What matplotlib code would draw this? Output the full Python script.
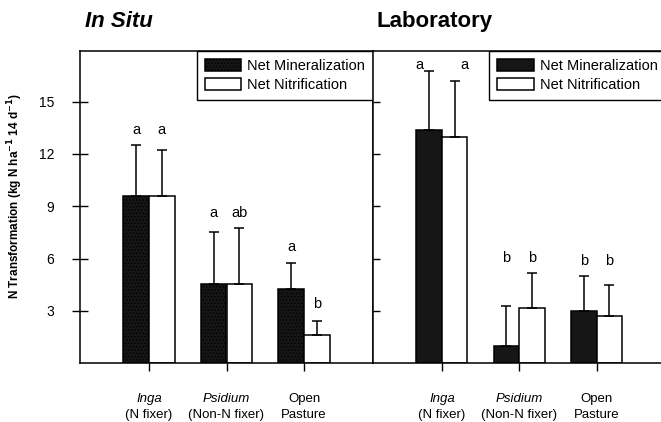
import matplotlib.pyplot as plt
import matplotlib.transforms as mtransforms
import numpy as np

plt.rcParams['font.family'] = ['Liberation Sans', 'DejaVu Sans']
plt.rcParams['hatch.color'] = '#5a5a5a'
plt.rcParams['hatch.linewidth'] = 0.6

# site names (first line of tick label) and second line
sites = ['Inga', 'Psidium', 'Open']
site_sub = ['(N fixer)', '(Non-N fixer)', 'Pasture']
site_italic = [True, True, False]

# in situ incubations
insitu_min = [9.6, 4.55, 4.25]
insitu_min_se = [2.9, 3.0, 1.5]
insitu_nit = [9.6, 4.55, 1.6]
insitu_nit_se = [2.6, 3.2, 0.85]
insitu_min_letters = ['a', 'a', 'a']
insitu_nit_letters = ['a', 'ab', 'b']

# laboratory incubations
lab_min = [13.35, 0.99, 3.01]
lab_min_se = [3.4, 2.3, 2.0]
lab_nit = [12.97, 3.15, 2.71]
lab_nit_se = [3.2, 2.0, 1.8]
lab_min_letters = ['a', 'b', 'b']
lab_nit_letters = ['a', 'b', 'b']

YMAX = 17.9
W = 0.33


def draw_panel(ax, mn, mn_se, nit, nit_se, mn_let, nit_let, hatch):
    x = np.arange(1, len(mn) + 1)
    ax.bar(x - W / 2, mn, W, color='#161616', edgecolor='black', lw=1.1,
           hatch=hatch, label='Net Mineralization', zorder=2)
    ax.bar(x + W / 2, nit, W, color='white', edgecolor='black', lw=1.1,
           label='Net Nitrification', zorder=2)
    for xs, v, e in ((x - W / 2, mn, mn_se), (x + W / 2, nit, nit_se)):
        ax.errorbar(xs, v, yerr=[np.zeros(len(v)), e], fmt='none',
                    ecolor='black', elinewidth=1.1, capsize=3.5,
                    capthick=1.1, zorder=3)

    # significance letters above the error bars
    top_mn = np.array(mn) + np.array(mn_se)
    top_nit = np.array(nit) + np.array(nit_se)
    for i in range(len(x)):
        hi = max(top_mn[i], top_nit[i])
        if abs(top_mn[i] - top_nit[i]) > 2.5:
            y1, y2 = top_mn[i] + 0.9, top_nit[i] + 0.95
        else:
            y1 = y2 = hi + 0.88
        dx = 0
        if y1 > YMAX - 0.8:
            y1 = y2 = YMAX - 0.83
            dx = 0.13
        ax.text(x[i] - W / 2 - dx, y1, mn_let[i], ha='center', va='center',
                fontsize=10.5)
        ax.text(x[i] + W / 2 + dx, y2, nit_let[i], ha='center', va='center',
                fontsize=10.5)

    ax.set_xlim(0.11, 3.89)
    ax.set_ylim(0, YMAX)
    ax.set_xticks(x)
    ax.set_xticklabels([])
    ax.tick_params(axis='x', direction='out', length=6, width=1)
    ax.set_yticks([3, 6, 9, 12, 15])
    for s in ax.spines.values():
        s.set_linewidth(1.1)

    # two-line category labels
    tr = mtransforms.blended_transform_factory(ax.transData, ax.transAxes)
    for i, name in enumerate(sites):
        ax.text(x[i], -0.114, name, transform=tr, ha='center', va='center',
                fontsize=9.5, style='italic' if site_italic[i] else 'normal')
        ax.text(x[i], -0.166, site_sub[i], transform=tr, ha='center',
                va='center', fontsize=9.5)

    leg = ax.legend(loc='upper right', borderaxespad=0, fontsize=10.5,
                    fancybox=False, framealpha=1, edgecolor='black',
                    handlelength=2.5, handleheight=0.85, handletextpad=0.4,
                    labelspacing=0.35, borderpad=0.55)
    leg.get_frame().set_linewidth(1.0)


fig = plt.figure(figsize=(6.61, 4.22), dpi=100)
bottom = 1 - 363.3 / 422
height = 312.3 / 422
ax1 = fig.add_axes([80 / 661, bottom, 293 / 661, height])
ax2 = fig.add_axes([373 / 661, bottom, 292.5 / 661, height])

draw_panel(ax1, insitu_min, insitu_min_se, insitu_nit, insitu_nit_se,
           insitu_min_letters, insitu_nit_letters, '.....')
draw_panel(ax2, lab_min, lab_min_se, lab_nit, lab_nit_se,
           lab_min_letters, lab_nit_letters, None)

ax1.tick_params(axis='y', direction='inout', length=11, width=1,
                labelsize=10, pad=13)
ax2.tick_params(axis='y', direction='in', length=5, width=1, labelleft=False)
ax2.spines['right'].set_visible(False)

fig.text(85 / 661, 1 - 27 / 422, 'In Situ', fontsize=16, fontweight='bold',
         style='italic', va='baseline')
fig.text(377 / 661, 1 - 27 / 422, 'Laboratory', fontsize=16,
         fontweight='bold', va='baseline')
fig.text(15.5 / 661, 1 - 196 / 422,
         r'N Transformation (kg N ha$^{\mathbf{-1}}$ 14 d$^{\mathbf{-1}}$)',
         rotation=90, ha='center', va='center', fontsize=8.5,
         fontweight='bold')

fig.savefig('out.png', dpi=100)
